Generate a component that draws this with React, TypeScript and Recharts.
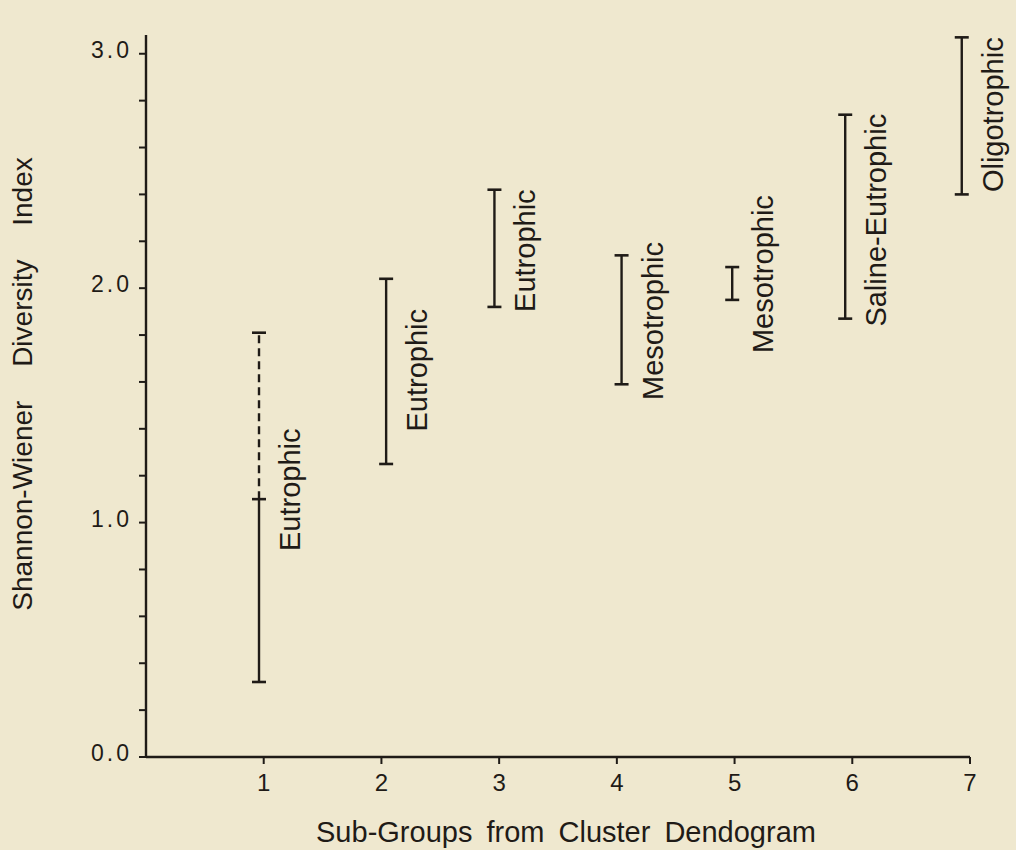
import React from "react";
import { ComposedChart, XAxis, YAxis, ReferenceLine, Scatter, Label } from "recharts";

const subGroups = [1, 2, 3, 4, 5, 6, 7];
const groupPositions = [0.96, 2.04, 2.96, 4.04, 4.98, 5.94, 6.93];
const rangeLow = [0.32, 1.25, 1.92, 1.59, 1.95, 1.87, 2.4];
const rangeHigh = [1.1, 2.04, 2.42, 2.14, 2.09, 2.74, 3.07];
const dashedHigh = [1.81, null, null, null, null, null, null];
const trophicLabels = [
  "Eutrophic",
  "Eutrophic",
  "Eutrophic",
  "Mesotrophic",
  "Mesotrophic",
  "Saline-Eutrophic",
  "Oligotrophic",
];
const labelLevels = [1.14, 1.65, 2.16, 1.86, 2.06, 2.29, 2.74];
const yTicks = [0, 0.2, 0.4, 0.6, 0.8, 1, 1.2, 1.4, 1.6, 1.8, 2, 2.2, 2.4, 2.6, 2.8, 3];

const INK = "#1f1b17";
const BG = "#efe8cf";
const FONT = "'Liberation Sans', Arial, Helvetica, sans-serif";

const labelPoints = subGroups.map((g, i) => ({
  x: groupPositions[i],
  y: labelLevels[i],
  name: trophicLabels[i],
}));

const rangeShape = (dashed: boolean) => (p: any) => {
  const { x1, y1, y2 } = p;
  return (
    <g>
      <line x1={x1} y1={y1} x2={x1} y2={y2} stroke={INK} strokeWidth={2.4} strokeDasharray={dashed ? "8 5" : undefined} />
      <line x1={x1 - 7} x2={x1 + 7} y1={y2} y2={y2} stroke={INK} strokeWidth={2.6} />
      {!dashed && <line x1={x1 - 7} x2={x1 + 7} y1={y1} y2={y1} stroke={INK} strokeWidth={2.6} />}
    </g>
  );
};

const LabelShape = (p: any) => {
  const { cx, cy, payload } = p;
  const x = cx + 31;
  return (
    <text
      x={x}
      y={cy}
      transform={`rotate(-90 ${x} ${cy})`}
      textAnchor="middle"
      dominantBaseline="central"
      fontFamily={FONT}
      fontSize={29}
      fill={INK}
    >
      {payload.name}
    </text>
  );
};

const YTick = (p: any) => {
  const { x, y, payload } = p;
  const v = payload.value;
  if (Math.abs(v - Math.round(v)) > 1e-6) return null;
  return (
    <text x={x} y={y - 4} textAnchor="end" dominantBaseline="central" fontFamily={FONT} fontSize={23} letterSpacing={3} fill={INK}>
      {v.toFixed(1)}
    </text>
  );
};

const XTick = (p: any) => {
  const { x, y, payload } = p;
  return (
    <text x={x} y={y} textAnchor="middle" dominantBaseline="hanging" fontFamily={FONT} fontSize={24} fill={INK}>
      {payload.value}
    </text>
  );
};

export default function App() {
  return (
    <div style={{ width: 1016, height: 850, background: BG }}>
      <style>{"body{margin:0}"}</style>
      <ComposedChart width={1016} height={850} margin={{ top: 35, right: 46, left: 0, bottom: 0 }}>
        <XAxis
          type="number"
          dataKey="x"
          domain={[0, 7]}
          ticks={subGroups}
          height={93}
          stroke={INK}
          strokeWidth={2.4}
          tickSize={7}
          tickMargin={9}
          tickLine={{ stroke: INK, strokeWidth: 2 }}
          tick={<XTick />}
        >
          <Label
            content={(props: any) => {
              const vb = props.viewBox;
              return (
                <text x={vb.x + vb.width / 2 + 8} y={832} textAnchor="middle" dominantBaseline="central" fontFamily={FONT} fontSize={29} fill={INK} style={{ wordSpacing: 6 }}>
                  Sub-Groups from Cluster Dendogram
                </text>
              );
            }}
          />
        </XAxis>
        <YAxis
          type="number"
          dataKey="y"
          domain={[0, 3.08]}
          ticks={yTicks}
          width={146}
          stroke={INK}
          strokeWidth={2.4}
          tickSize={7}
          tickMargin={7}
          tickLine={{ stroke: INK, strokeWidth: 2 }}
          tick={<YTick />}
        >
          <Label
            content={(props: any) => {
              const vb = props.viewBox;
              const cx = 22;
              const cy = vb.y + vb.height / 2 - 12;
              return (
                <text x={cx} y={cy} transform={`rotate(-90 ${cx} ${cy})`} textAnchor="middle" dominantBaseline="central" fontFamily={FONT} fontSize={28} fill={INK} style={{ wordSpacing: 26 }}>
                  Shannon-Wiener Diversity Index
                </text>
              );
            }}
          />
        </YAxis>
        {subGroups.map((g, i) => (
          <ReferenceLine
            key={`r${g}`}
            segment={[
              { x: groupPositions[i], y: rangeLow[i] },
              { x: groupPositions[i], y: rangeHigh[i] },
            ]}
            ifOverflow="visible"
            shape={rangeShape(false)}
          />
        ))}
        {subGroups.map((g, i) =>
          dashedHigh[i] == null ? null : (
            <ReferenceLine
              key={`d${g}`}
              segment={[
                { x: groupPositions[i], y: rangeHigh[i] },
                { x: groupPositions[i], y: dashedHigh[i] as number },
              ]}
              ifOverflow="visible"
              shape={rangeShape(true)}
            />
          )
        )}
        <Scatter data={labelPoints} dataKey="y" shape={<LabelShape />} isAnimationActive={false} />
      </ComposedChart>
    </div>
  );
}
